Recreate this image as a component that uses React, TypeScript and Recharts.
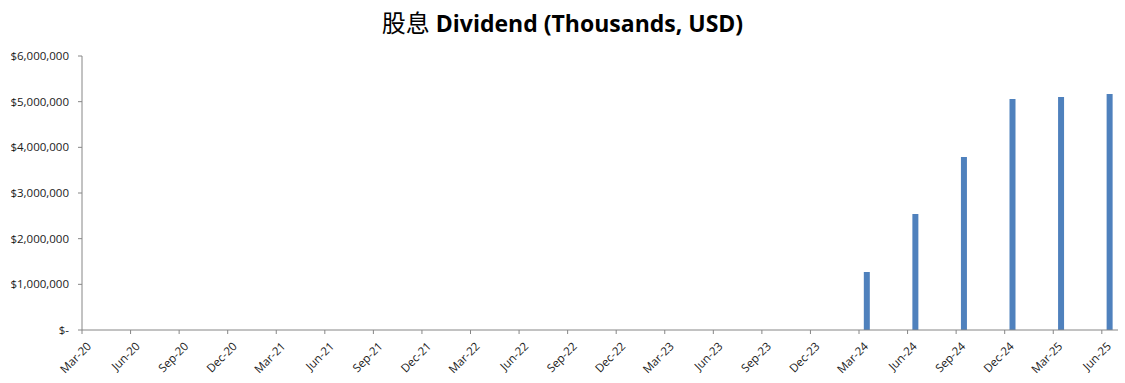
import { BarChart, Bar, XAxis, YAxis } from 'recharts';

// quarter labels, one per tick on the date axis (3 months apart)
const quarters = [
    'Mar-20', 'Jun-20', 'Sep-20', 'Dec-20',
    'Mar-21', 'Jun-21', 'Sep-21', 'Dec-21',
    'Mar-22', 'Jun-22', 'Sep-22', 'Dec-22',
    'Mar-23', 'Jun-23', 'Sep-23', 'Dec-23',
    'Mar-24', 'Jun-24', 'Sep-24', 'Dec-24',
    'Mar-25', 'Jun-25',
];

// dividend per quarter, thousands USD (nothing paid before 2024)
const dividends: (number | null)[] = [
    null, null, null, null,
    null, null, null, null,
    null, null, null, null,
    null, null, null, null,
    1270000, 2540000, 3790000, 5060000,
    5100000, 5170000,
];

const yTicks = [0, 1000000, 2000000, 3000000, 4000000, 5000000, 6000000];

// x is months since Mar-20; a bar sits in the middle of its month slot
const monthTicks = quarters.map((_q, i) => i * 3);
const chartData = quarters.map((q, i) => ({ label: q, x: i * 3 + 0.5, value: dividends[i] }));

const AXIS_COLOR = '#868686';
const TEXT_COLOR = '#1a1a1a';
const FONT = '"Open Sans", "Noto Sans", sans-serif';

const fmtMoney = (v: number) => (v === 0 ? '$-' : '$' + v.toLocaleString('en-US'));

function QuarterTick({ x, y, payload }: any) {
    const label = quarters[Math.round(payload.value / 3)];
    return (
        <g transform={`translate(${x + 10},${y + 13})`}>
            <text textAnchor="end" transform="rotate(-45)" fontSize={11.5} fill={TEXT_COLOR} fontFamily={FONT}>
                {label}
            </text>
        </g>
    );
}

export default function App() {
    return (
        <div style={{ position: 'absolute', left: 0, top: 0, width: 1125, height: 383, background: '#fff' }}>
            <div
                style={{
                    position: 'absolute',
                    left: 0,
                    top: 4,
                    width: 1125,
                    textAlign: 'center',
                    fontSize: 23,
                    fontWeight: 700,
                    color: '#000',
                    fontFamily: FONT,
                }}
            >
                <span style={{ fontFamily: '"Noto Sans CJK SC"', fontWeight: 400, fontSize: 24 }}>股息</span> Dividend (Thousands, USD)
            </div>
            <BarChart width={1125} height={383} data={chartData} margin={{ top: 56, right: 7, left: 0, bottom: 0 }}>
                <XAxis
                    dataKey="x"
                    type="number"
                    domain={[0, 64]}
                    ticks={monthTicks}
                    interval={0}
                    height={53}
                    tickSize={4}
                    tickMargin={0}
                    axisLine={{ stroke: AXIS_COLOR }}
                    tickLine={{ stroke: AXIS_COLOR }}
                    tick={<QuarterTick />}
                />
                <YAxis
                    width={82}
                    domain={[0, 6000000]}
                    ticks={yTicks}
                    interval={0}
                    tickSize={4}
                    tickMargin={9}
                    axisLine={{ stroke: AXIS_COLOR }}
                    tickLine={{ stroke: AXIS_COLOR }}
                    tickFormatter={fmtMoney}
                    tick={{ fontSize: 11.5, fill: TEXT_COLOR, fontFamily: FONT }}
                />
                <Bar dataKey="value" fill="#4F81BD" barSize={6} isAnimationActive={false} />
            </BarChart>
        </div>
    );
}
